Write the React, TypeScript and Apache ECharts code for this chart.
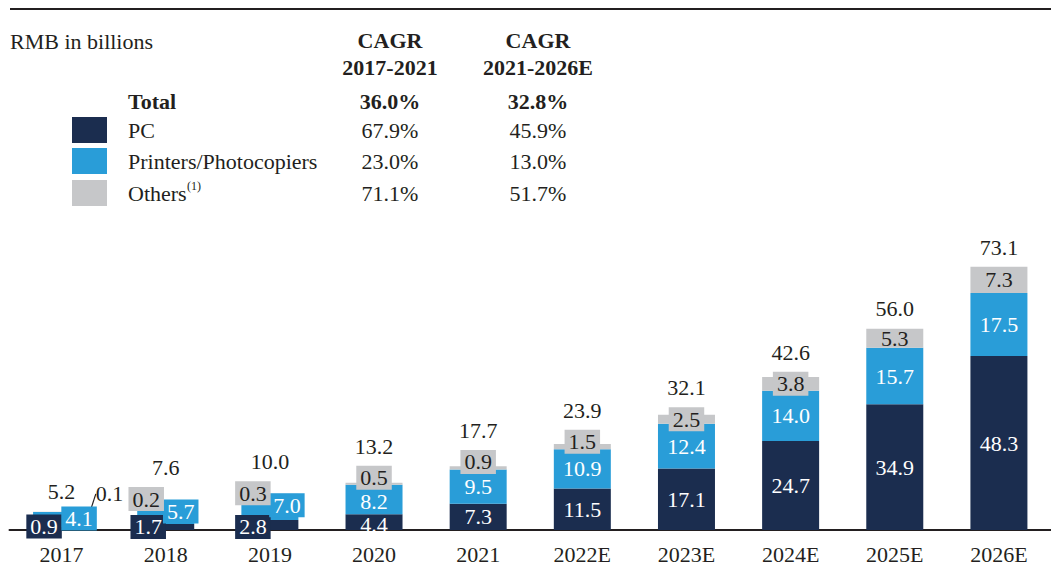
import React, { useEffect, useRef } from "react";
import * as echarts from "echarts";

// ---------- data ----------
const categories = ["2017", "2018", "2019", "2020", "2021", "2022E", "2023E", "2024E", "2025E", "2026E"];
const pcValues = [0.9, 1.7, 2.8, 4.4, 7.3, 11.5, 17.1, 24.7, 34.9, 48.3];
const printerValues = [4.1, 5.7, 7.0, 8.2, 9.5, 10.9, 12.4, 14.0, 15.7, 17.5];
const otherValues = [0.1, 0.2, 0.3, 0.5, 0.9, 1.5, 2.5, 3.8, 5.3, 7.3];
const totals = [5.2, 7.6, 10.0, 13.2, 17.7, 23.9, 32.1, 42.6, 56.0, 73.1];

const unitLabel = "RMB in billions";
const cagrHeaders = [
  ["CAGR", "2017-2021"],
  ["CAGR", "2021-2026E"],
];
const rowLabels = ["Total", "PC", "Printers/Photocopiers", "Others"];
const cagr2017_2021 = ["36.0%", "67.9%", "23.0%", "71.1%"];
const cagr2021_2026 = ["32.8%", "45.9%", "13.0%", "51.7%"];
const footnoteMark = "(1)";

// ---------- style ----------
const FONT = '"Liberation Serif", "Times New Roman", serif';
const NAVY = "#1b2d4f";
const BLUE = "#299dd8";
const GRAY = "#c6c7c9";
const INK = "#231f20";
const FS = 22;

const GRID_TOP = 170;
const GRID_H = 360;
const Y_MAX = 100;
const PX = GRID_H / Y_MAX;
const BOX_HALF = 12;

// label displacement (layout only) for small segments
const pcShift: Record<number, [number, number]> = { 0: [-17.5, -2], 1: [-17.5, 0], 2: [-17, 2], 3: [0, 2] };
const printerShift: Record<number, [number, number]> = { 0: [17.5, -1], 1: [15, -2], 2: [17, -2], 3: [0, 2] };
const otherShift: Record<number, [number, number]> = {
  0: [48, -18],
  1: [-19.5, -4],
  2: [-17, -1],
  3: [0, -6],
  4: [0, -6],
  5: [0, -5],
};
const boxedPc = [0, 1, 2];
const boxedPrinters = [0, 1, 2];
const boxedOthers = [1, 2, 3, 4, 5, 6, 7];

const fmt = (p: any) => Number(Array.isArray(p.value) ? p.value[1] : p.value).toFixed(1);

const layoutFrom = (shift: Record<number, [number, number]>) => (params: any) => {
  const s = shift[params.dataIndex];
  return s ? { dx: s[0], dy: s[1] } : {};
};

const boxLabel = (bg: string, color: string) => ({
  backgroundColor: bg,
  padding: [1, 4],
  lineHeight: 22,
  color,
});

function buildOption() {
  const baseLabel = {
    show: true,
    position: "inside",
    fontFamily: FONT,
    fontSize: FS,
    formatter: fmt,
  };

  const pcData = pcValues.map((v, i) => ({
    value: v,
    label: boxedPc.includes(i) ? boxLabel(NAVY, "#ffffff") : {},
  }));
  const printerData = printerValues.map((v, i) => ({
    value: v,
    label: boxedPrinters.includes(i) ? boxLabel(BLUE, "#ffffff") : {},
  }));
  const otherData = otherValues.map((v, i) => {
    if (boxedOthers.includes(i)) return { value: v, label: boxLabel(GRAY, INK) };
    if (i === 0)
      return {
        value: v,
        label: { color: INK },
        labelLine: { show: true, length2: 0, lineStyle: { color: INK, width: 1.2 } },
      };
    return { value: v };
  });

  const totalData = totals.map((t, i) => {
    const barTop = t * PX;
    let top = barTop;
    if (boxedOthers.includes(i)) {
      const dy = otherShift[i] ? otherShift[i][1] : 0;
      const boxTop = (pcValues[i] + printerValues[i] + otherValues[i] / 2) * PX - dy + BOX_HALF;
      top = Math.max(barTop, boxTop);
    }
    return { value: t, label: { distance: top - barTop + 8 } };
  });

  const graphics: any[] = [];
  graphics.push({
    type: "line",
    shape: { x1: 10, y1: 9, x2: 1051, y2: 9 },
    style: { stroke: INK, lineWidth: 2 },
    silent: true,
  });
  const txt = (text: string, x: number, y: number, align: string, bold = false, size = FS) => ({
    type: "text",
    x,
    y,
    silent: true,
    style: {
      text,
      fill: INK,
      fontFamily: FONT,
      fontSize: size,
      fontWeight: bold ? "bold" : "normal",
      align,
      textAlign: align,
      verticalAlign: "middle",
      textVerticalAlign: "middle",
    },
  });
  graphics.push(txt(unitLabel, 10, 41, "left"));
  const colX = [390, 538];
  cagrHeaders.forEach((h, c) => {
    graphics.push(txt(h[0], colX[c], 40, "center", true));
    graphics.push(txt(h[1], colX[c], 67, "center", true));
  });
  const rowY = [101, 130, 161, 193];
  const swatch = [null, NAVY, BLUE, GRAY];
  rowLabels.forEach((r, k) => {
    graphics.push(txt(r, 128, rowY[k], "left", k === 0));
    graphics.push(txt(cagr2017_2021[k], colX[0], rowY[k], "center", k === 0));
    graphics.push(txt(cagr2021_2026[k], colX[1], rowY[k], "center", k === 0));
    if (swatch[k]) {
      graphics.push({
        type: "rect",
        shape: { x: 72, y: rowY[k] - 13, width: 35, height: 26 },
        style: { fill: swatch[k] },
        silent: true,
      });
    }
  });
  graphics.push(txt(footnoteMark, 187, 186, "left", false, 12));

  return {
    animation: false,
    grid: { left: 9.5, width: 1050, top: GRID_TOP, height: GRID_H },
    xAxis: {
      type: "category",
      data: categories,
      axisLine: { lineStyle: { color: INK, width: 2 } },
      axisTick: { show: false },
      axisLabel: { fontFamily: FONT, fontSize: FS, color: INK, margin: 13 },
    },
    yAxis: { type: "value", min: 0, max: Y_MAX, show: false },
    graphic: graphics,
    series: [
      {
        name: "PC",
        type: "bar",
        stack: "total",
        barWidth: 57,
        itemStyle: { color: NAVY },
        label: { ...baseLabel, color: "#ffffff" },
        labelLayout: layoutFrom(pcShift),
        data: pcData,
        silent: true,
      },
      {
        name: "Printers/Photocopiers",
        type: "bar",
        stack: "total",
        barWidth: 57,
        itemStyle: { color: BLUE },
        label: { ...baseLabel, color: "#ffffff" },
        labelLayout: layoutFrom(printerShift),
        data: printerData,
        silent: true,
      },
      {
        name: "Others",
        type: "bar",
        stack: "total",
        barWidth: 57,
        itemStyle: { color: GRAY },
        label: { ...baseLabel, color: INK },
        labelLayout: layoutFrom(otherShift),
        data: otherData,
        silent: true,
      },
      {
        name: "Total",
        type: "scatter",
        symbol: "circle",
        symbolSize: 1,
        itemStyle: { color: "rgba(0,0,0,0)", opacity: 1 },
        label: {
          show: true,
          position: "top",
          fontFamily: FONT,
          fontSize: FS,
          color: INK,
          opacity: 1,
          formatter: fmt,
        },
        data: totalData,
        silent: true,
        z: 5,
      },
    ],
  };
}

export default function App() {
  const ref = useRef<HTMLDivElement>(null);
  useEffect(() => {
    if (!ref.current) return;
    const chart = echarts.init(ref.current, undefined, { renderer: "svg" });
    chart.setOption(buildOption() as any);
    return () => chart.dispose();
  }, []);
  return (
    <div
      ref={ref}
      style={{ position: "absolute", left: 0, top: 0, width: 1051, height: 570, background: "#ffffff" }}
    />
  );
}
